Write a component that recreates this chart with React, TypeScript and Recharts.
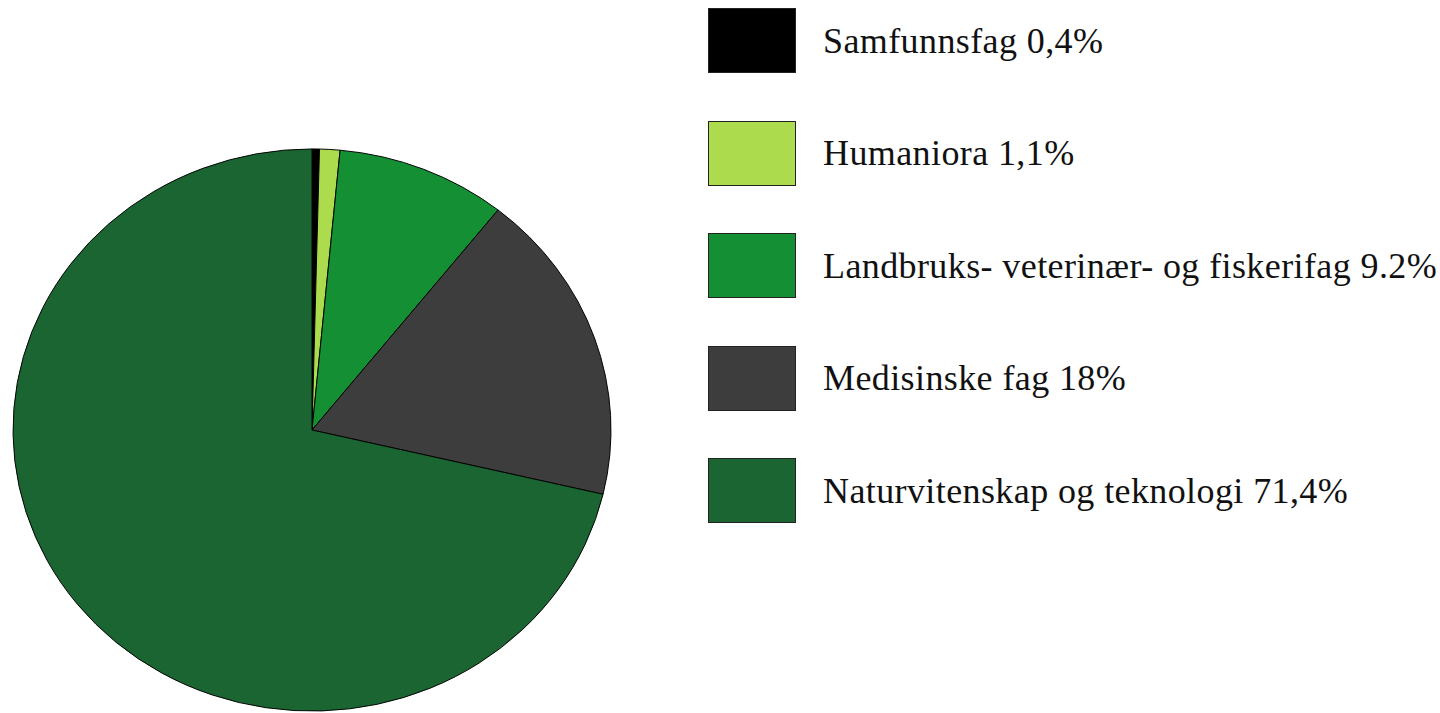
import { Cell, Pie, PieChart } from 'recharts';

// Fields of study and their shares (%)
const categories = [
  'Samfunnsfag',
  'Humaniora',
  'Landbruks- veterinær- og fiskerifag',
  'Medisinske fag',
  'Naturvitenskap og teknologi',
];
const shares = [0.4, 1.1, 9.2, 18, 71.4];
const shareLabels = ['0,4%', '1,1%', '9.2%', '18%', '71,4%'];
const colors = ['#000000', '#acdc4e', '#148f33', '#3d3d3d', '#1b6532'];

const chartData = categories.map((name, i) => ({ name, value: shares[i] }));

export default function App() {
  return (
    <div style={{ position: 'absolute', left: 0, top: 0, width: 1440, height: 713, overflow: 'hidden', background: '#fff' }}>
      {/* Pie, slightly squashed vertically like the original */}
      <div
        style={{
          position: 'absolute',
          left: 0,
          top: 118,
          width: 640,
          height: 640,
          transform: 'scaleY(0.94)',
          transformOrigin: '312px 312px',
        }}
      >
        <PieChart width={640} height={640} margin={{ top: 0, right: 0, bottom: 0, left: 0 }}>
          <Pie
            data={chartData}
            dataKey="value"
            cx={312}
            cy={312}
            outerRadius={299}
            startAngle={90}
            endAngle={-270}
            stroke="#000"
            strokeWidth={1}
            isAnimationActive={false}
          >
            {chartData.map((d, i) => (
              <Cell key={d.name} fill={colors[i]} />
            ))}
          </Pie>
        </PieChart>
      </div>

      {/* Legend */}
      {categories.map((name, i) => (
        <div key={name} style={{ position: 'absolute', left: 708, top: 8 + i * 112.5, height: 65, display: 'flex', alignItems: 'center' }}>
          <div style={{ width: 86, height: 63, background: colors[i], border: '1px solid #222' }} />
          <span
            style={{
              marginLeft: 27,
              fontFamily: '"Liberation Serif", serif',
              fontSize: 36,
              letterSpacing: 0.4,
              color: '#111',
              whiteSpace: 'nowrap',
            }}
          >
            {name} {shareLabels[i]}
          </span>
        </div>
      ))}
    </div>
  );
}
